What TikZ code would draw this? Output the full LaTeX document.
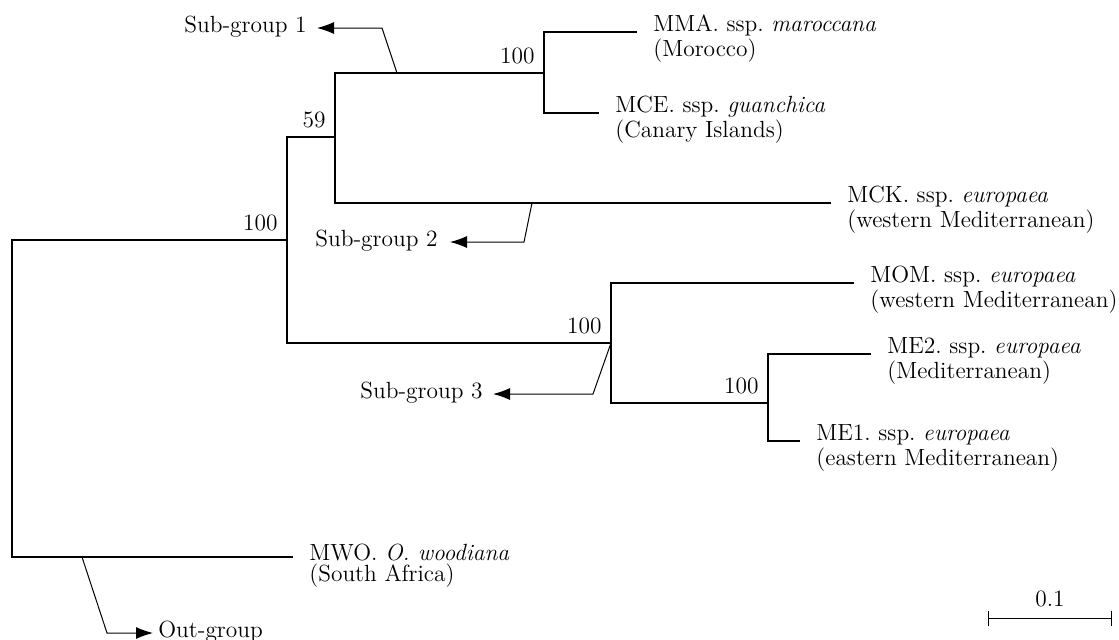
\documentclass[tikz,border=0pt]{standalone}
\usepackage{tikz}
\usetikzlibrary{positioning,arrows.meta}
\frenchspacing

\begin{document}
\begin{tikzpicture}[x=0.5pt, y=-0.5pt, font=\fontsize{11.7}{10.5}\selectfont,
    branch/.style={line width=0.75pt, line cap=rect},
    pointer/.style={line width=0.5pt, -{Latex[length=8.5pt,width=6pt]}},
    taxon/.style={align=left, inner sep=0pt},
    boot/.style={inner sep=0pt},
    grp/.style={inner sep=0pt}]
  \useasboundingbox (0,0) rectangle (1119,639);
  % internal nodes
  \coordinate (root) at (12,398);
  \coordinate (nA) at (287,240);
  \coordinate (nB) at (335,137);
  \coordinate (nC) at (544,73);
  \coordinate (nD) at (611,343);
  \coordinate (nE) at (768,403);
  % tips
  \coordinate (tMMA) at (636,32);
  \coordinate (tMCE) at (598,113);
  \coordinate (tMCK) at (830,203);
  \coordinate (tMOM) at (853,283);
  \coordinate (tME2) at (870,354);
  \coordinate (tME1) at (799,441);
  \coordinate (tMWO) at (292,557);
  % tree
  \draw[branch] (root) |- (nA);
  \draw[branch] (root) |- (tMWO);
  \draw[branch] (nA) |- (nB);
  \draw[branch] (nA) |- (nD);
  \draw[branch] (nB) |- (nC);
  \draw[branch] (nB) |- (tMCK);
  \draw[branch] (nC) |- (tMMA);
  \draw[branch] (nC) |- (tMCE);
  \draw[branch] (nD) |- (tMOM);
  \draw[branch] (nD) |- (nE);
  \draw[branch] (nE) |- (tME2);
  \draw[branch] (nE) |- (tME1);
  % taxa (base = last line, so drop one line)
  \node[taxon, right=8.5pt of tMMA, anchor=base west, yshift=-12pt] (lMMA) {MMA. ssp. \textit{maroccana}\\(Morocco)};
  \node[taxon, right=8.5pt of tMCE, anchor=base west, yshift=-12pt] (lMCE) {MCE. ssp. \textit{guanchica}\\(Canary Islands)};
  \node[taxon, right=8.5pt of tMCK, anchor=base west, yshift=-12pt] (lMCK) {MCK. ssp. \textit{europaea}\\(western Mediterranean)};
  \node[taxon, right=8.5pt of tMOM, anchor=base west, yshift=-12pt] (lMOM) {MOM. ssp. \textit{europaea}\\(western Mediterranean)};
  \node[taxon, right=8.5pt of tME2, anchor=base west, yshift=-12pt] (lME2) {ME2. ssp. \textit{europaea}\\(Mediterranean)};
  \node[taxon, right=8.5pt of tME1, anchor=base west, yshift=-12pt] (lME1) {ME1. ssp. \textit{europaea}\\(eastern Mediterranean)};
  \node[taxon, right=8.5pt of tMWO, anchor=base west, yshift=-12pt] (lMWO) {MWO. \textit{O. woodiana}\\(South Africa)};
  % bootstrap values
  \node[boot, above left=5pt and 4.5pt of nA, anchor=base east] (bA) {100};
  \node[boot, above left=5pt and 4.5pt of nB, anchor=base east] (bB) {59};
  \node[boot, above left=5pt and 4.5pt of nC, anchor=base east] (bC) {100};
  \node[boot, above left=5pt and 4.5pt of nD, anchor=base east] (bD) {100};
  \node[boot, above left=5pt and 4.5pt of nE, anchor=base east] (bE) {100};
  % group pointers
  \coordinate (g1a) at (397,73);
  \coordinate (g1b) at (382,28);
  \coordinate (g1c) at (317,28);
  \coordinate (g2a) at (532,203);
  \coordinate (g2b) at (524,242);
  \coordinate (g2c) at (450,242);
  \coordinate (g3b) at (593,394);
  \coordinate (g3c) at (493,394);
  \coordinate (oga) at (82,557);
  \coordinate (ogb) at (107,633);
  \coordinate (ogc) at (153,633);
  \draw[pointer] (g1a) -- (g1b) -- (g1c);
  \draw[pointer] (g2a) -- (g2b) -- (g2c);
  \draw[pointer] (nD) -- (g3b) -- (g3c);
  \draw[pointer] (oga) -- (ogb) -- (ogc);
  \node[grp, left=5pt of g1c, anchor=mid east] (sg1) {Sub-group 1};
  \node[grp, left=6pt of g2c, anchor=mid east] (sg2) {Sub-group 2};
  \node[grp, left=5pt of g3c, anchor=mid east] (sg3) {Sub-group 3};
  \node[grp, right=2.5pt of ogc, anchor=mid west] (og) {Out-group};
  % scale bar
  \coordinate (sbL) at (988,618);
  \coordinate (sbR) at (1112,618);
  \coordinate (sbM) at (1050,618);
  \draw[line width=0.5pt, {Bar[width=7.5pt]}-{Bar[width=7.5pt]}] (sbL) -- (sbR);
  \node[grp, above=6pt of sbM, anchor=base] (sb) {0.1};
\end{tikzpicture}
\end{document}
